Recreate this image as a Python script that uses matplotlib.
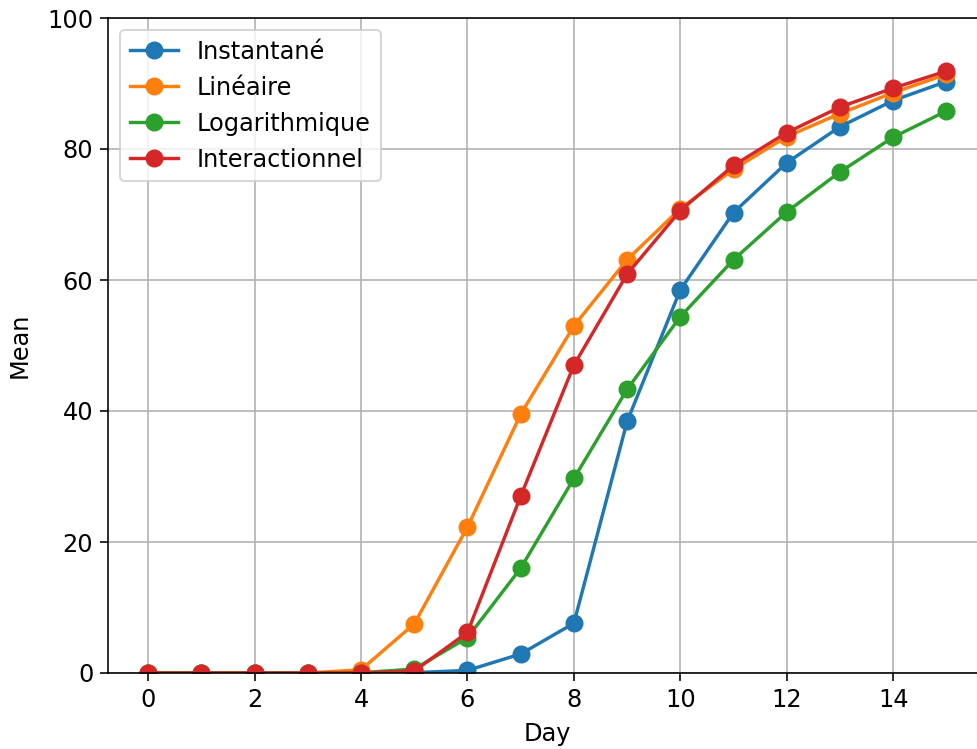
import matplotlib
matplotlib.use("Agg")
import matplotlib.pyplot as plt
import numpy as np

days = np.arange(16)

# mean values
instantane = [0, 0, 0, 0, 0, 0.05, 0.4, 2.9, 7.6, 38.4, 58.5, 70.3, 77.9, 83.4, 87.4, 90.3]
lineaire = [0, 0, 0, 0, 0.5, 7.5, 22.3, 39.5, 53.0, 63.1, 70.9, 76.9, 81.9, 85.4, 88.6, 91.4]
logarithmique = [0, 0, 0, 0, 0.05, 0.6, 5.4, 16.0, 29.7, 43.3, 54.4, 63.1, 70.4, 76.5, 81.8, 85.8]
interactionnel = [0, 0, 0, 0, 0, 0.3, 6.2, 27.0, 47.0, 60.9, 70.6, 77.5, 82.5, 86.4, 89.3, 91.9]

series = [("Instantané", instantane),
          ("Linéaire", lineaire),
          ("Logarithmique", logarithmique),
          ("Interactionnel", interactionnel)]

plt.rcParams['font.size'] = 12

fig = plt.figure(figsize=(977 / 144, 749 / 144), dpi=144)
ax = fig.add_axes([108.3 / 977, 76 / 749, 878 / 977, 655 / 749])

for label, vals in series:
    ax.plot(days, vals, marker='o', markersize=8, linewidth=1.7, label=label)

ax.set_ylim(0, 100)
ax.set_xlabel("Day", labelpad=5)
ax.set_ylabel("Mean", labelpad=8)
ax.tick_params(length=4)
ax.grid(True)
ax.legend(loc='upper left')

fig.savefig("out.png", dpi=144)
